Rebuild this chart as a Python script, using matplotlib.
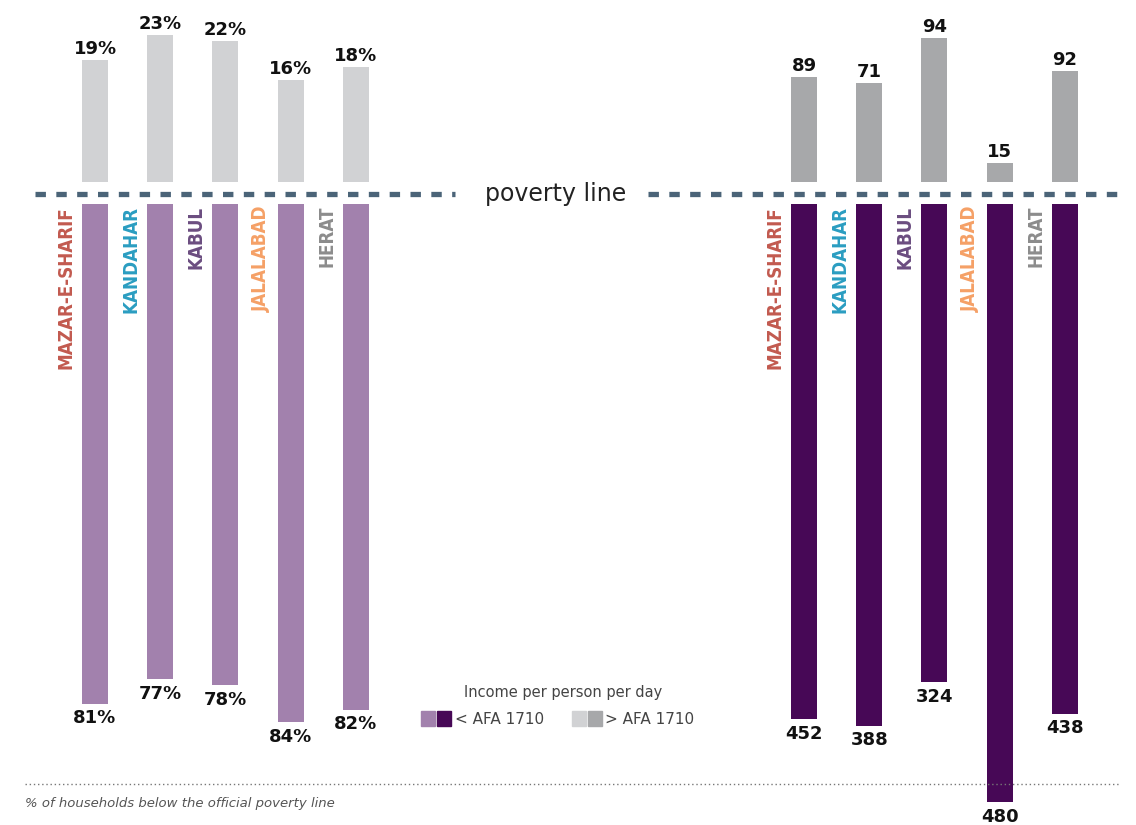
import matplotlib.pyplot as plt
from matplotlib.patches import Rectangle
from matplotlib.lines import Line2D

plt.rcParams['font.family'] = 'DejaVu Sans'
plt.rcParams['lines.scale_dashes'] = False

# Data
cities = ['MAZAR-E-SHARIF', 'KANDAHAR', 'KABUL', 'JALALABAD', 'HERAT']
city_colors = ['#c25a4f', '#2a9dc1', '#6b4d80', '#f5a066', '#8c8c8c']

pct_above = [19, 23, 22, 16, 18]   # % of households above poverty line
pct_below = [81, 77, 78, 84, 82]   # % below
n_above = [89, 71, 94, 15, 92]     # households above poverty line
n_below = [452, 388, 324, 480, 438]

# Right panel bars are drawn as the share of each city's total
share_above = [a / (a + b) * 100 for a, b in zip(n_above, n_below)]
share_below = [b / (a + b) * 100 for a, b in zip(n_above, n_below)]

W, H = 1136, 825
fig = plt.figure(figsize=(W / 100, H / 100), dpi=100)

# pixel layout
line_y = 194
top_base = 182
bot_base = 204
px_top = 6.4     # px per % above the line
px_bot = 6.17    # px per % below the line

ax_top = fig.add_axes([0, (H - top_base) / H, 1, top_base / H])
ax_top.set_xlim(0, W)
ax_top.set_ylim(0, top_base / px_top)
ax_bot = fig.add_axes([0, 0, 1, (H - bot_base) / H])
ax_bot.set_xlim(0, W)
ax_bot.set_ylim(-(H - bot_base) / px_bot, 0)
for ax in (ax_top, ax_bot):
    ax.axis('off')

bar_w = 26
step = 65.2
left_x = [95 + i * step for i in range(5)]
right_x = [804 + i * step for i in range(5)]

num_font = dict(fontsize=13, fontweight='bold', color='#111111', annotation_clip=False)

# Left panel: percentages
ax_top.bar(left_x, pct_above, width=bar_w, color='#d1d2d4')
ax_bot.bar(left_x, [-v for v in pct_below], width=bar_w, color='#a281ad')
for x, a, b in zip(left_x, pct_above, pct_below):
    ax_top.annotate(f'{a}%', (x, a), xytext=(0, 1.5), textcoords='offset points',
                    ha='center', va='bottom', **num_font)
    ax_bot.annotate(f'{b}%', (x, -b), xytext=(0, -4), textcoords='offset points',
                    ha='center', va='top', **num_font)

# Right panel: household counts
ax_top.bar(right_x, share_above, width=bar_w, color='#a7a8aa')
ax_bot.bar(right_x, [-v for v in share_below], width=bar_w, color='#470856')
for x, a, b, na, nb in zip(right_x, share_above, share_below, n_above, n_below):
    ax_top.annotate(f'{na}', (x, a), xytext=(0, 1.5), textcoords='offset points',
                    ha='center', va='bottom', **num_font)
    ax_bot.annotate(f'{nb}', (x, -b), xytext=(0, -4), textcoords='offset points',
                    ha='center', va='top', **num_font)

# City names next to the bars
for xs in (left_x, right_x):
    for x, name, c in zip(xs, cities, city_colors):
        ax_bot.text(x - 29, -0.3, name, rotation=90, ha='center', va='top',
                    color=c, fontsize=13.5, fontweight='bold', fontstretch='condensed')

# Poverty line
ly = 1 - line_y / H
for x0, x1 in ((35, 455), (648, 1122)):
    fig.add_artist(Line2D([x0 / W, x1 / W], [ly, ly], color='#4b6478', lw=3.8,
                          dashes=(7.5, 7.5), solid_capstyle='butt', dash_capstyle='butt'))
fig.text(556 / W, ly, 'poverty line', ha='center', va='center', fontsize=17, color='#222222')

# Legend
fig.text(563 / W, 1 - 692 / H, 'Income per person per day', ha='center', va='center',
         fontsize=10.5, color='#444444')
sq = 14
for x0, c in ((421, '#a281ad'), (437, '#470856'), (572, '#d1d2d4'), (588, '#a7a8aa')):
    fig.add_artist(Rectangle((x0 / W, 1 - 726 / H), sq / W, 15 / H, color=c))
fig.text(455 / W, 1 - 719 / H, '< AFA 1710', ha='left', va='center', fontsize=11, color='#444444')
fig.text(605 / W, 1 - 719 / H, '> AFA 1710', ha='left', va='center', fontsize=11, color='#444444')

# Footer
fy = 1 - 784 / H
fig.add_artist(Line2D([25 / W, 1120 / W], [fy, fy], color='#777777', lw=1, linestyle=(0, (1, 2))))
fig.text(25 / W, 1 - 804 / H, '% of households below the official poverty line', ha='left',
         va='center', fontsize=9.5, style='italic', color='#555555')

fig.savefig('out.png', dpi=100)
